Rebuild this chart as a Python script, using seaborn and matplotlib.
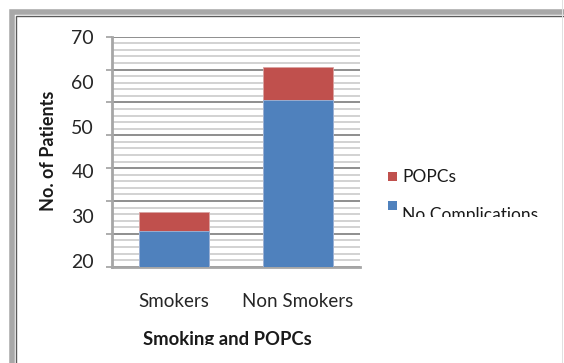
import numpy as np
import pandas as pd
import matplotlib
matplotlib.use("Agg")
import matplotlib.pyplot as plt
from matplotlib.patches import Rectangle
import seaborn as sns

# Data
categories = ["Smokers", "Non Smokers"]
no_complications = [26.7, 55.9]
popcs = [4.3, 7.5]
y_tick_labels = [20, 30, 40, 50, 60, 70]

blue = "#4F81BD"
red = "#C0504D"

sns.set_theme(style="white")
plt.rcParams["font.family"] = ["Lato", "DejaVu Sans"]

df = pd.DataFrame({
    "group": categories,
    "no_comp": no_complications,
    "total": np.array(no_complications) + np.array(popcs),
})

W, H = 564, 363
fig = plt.figure(figsize=(W / 100, H / 100), dpi=100)
fig.patch.set_facecolor("white")

def fx(px):
    return px / W

def fy(py):
    return 1 - py / H

ax_l, ax_r, ax_t, ax_b = 112, 360, 36.7, 266.7
ax = fig.add_axes([fx(ax_l), fy(ax_b), fx(ax_r - ax_l), (ax_b - ax_t) / H])
ax.set_facecolor("white")

ylo, yhi = 18.73, 70.07
ax.set_ylim(ylo, yhi)

# Gridlines: 7 major bands, each split into 5 minor steps
minor_lines = np.linspace(ylo, yhi, 36)
major_lines = np.linspace(ylo, yhi, 8)
ax.hlines(minor_lines, -0.5, 1.5, colors="#cfcfcf", linewidth=1.3, zorder=0)
ax.hlines(major_lines, -0.5, 1.5, colors="#8a8a8a", linewidth=1.3, zorder=0)

# Stacked bars: totals in red, lower segment in blue on top
sns.barplot(data=df, x="group", y="total", color=red, saturation=1,
            width=0.57, ax=ax, zorder=2, edgecolor="#d9a3a2", linewidth=0.6)
sns.barplot(data=df, x="group", y="no_comp", color=blue, saturation=1,
            width=0.57, ax=ax, zorder=3, edgecolor="#9db7db", linewidth=0.6)
ax.set_xlim(-0.5, 1.5)
ax.set_ylim(ylo, yhi)

# Tick marks on the gridline positions, value labels on their own ticks
ax.set_yticks(major_lines, labels=[""] * len(major_lines))
ax.set_yticks(y_tick_labels, labels=[str(v) for v in y_tick_labels], minor=True)
ax.tick_params(axis="y", which="major", length=4, width=1.2, color="#a0a0a0",
               direction="out", left=True)
ax.tick_params(axis="y", which="minor", length=0, pad=13, labelsize=14,
               labelcolor="#262626")
ax.tick_params(axis="x", length=0, pad=19, labelsize=13.5, labelcolor="#262626")
ax.set_xlabel("")
ax.set_ylabel("")

for side in ["top", "right"]:
    ax.spines[side].set_visible(False)
for side in ["left", "bottom"]:
    ax.spines[side].set_color("#a6a6a6")
    ax.spines[side].set_linewidth(2.0)

# Axis titles
fig.text(fx(49), fy(151), "No. of Patients", rotation=90, ha="center",
         va="center", fontsize=13, fontweight="bold", color="#1a1a1a")
xt = fig.text(fx(227), fy(339), "Smoking and POPCs", ha="center", va="center",
              fontsize=13.3, fontweight="bold", color="#1a1a1a")
xt.set_clip_path(Rectangle((0, fy(345)), 1, 1, transform=fig.transFigure))

# Legend entries
for (name, col, sq_top, txt_y) in [("POPCs", red, 172, 177),
                                   ("No Complications", blue, 201, 215)]:
    fig.patches.append(Rectangle((fx(388), fy(sq_top + 9)), fx(9), 9 / H,
                                 transform=fig.transFigure, facecolor=col,
                                 edgecolor="none"))
    t = fig.text(fx(402), fy(txt_y), name, ha="left", va="center",
                 fontsize=12.5, color="#1a1a1a")
    if name == "No Complications":
        t.set_clip_path(Rectangle((0, fy(217)), 1, 1, transform=fig.transFigure))

# Chart frame
fig.patches.append(Rectangle((fx(12), fy(H + 5)), fx(W + 10), (H - 7) / H,
                             transform=fig.transFigure, fill=False,
                             edgecolor="#a8a8a8", linewidth=4))
fig.patches.append(Rectangle((fx(16), fy(H + 5)), fx(W + 10), (H - 11) / H,
                             transform=fig.transFigure, fill=False,
                             edgecolor="#5a5a5a", linewidth=1))
fig.patches.append(Rectangle((fx(W - 2), 0), fx(1), 1, transform=fig.transFigure,
                             facecolor="#e0e0e0", edgecolor="none"))

fig.savefig("out.png", dpi=100)
